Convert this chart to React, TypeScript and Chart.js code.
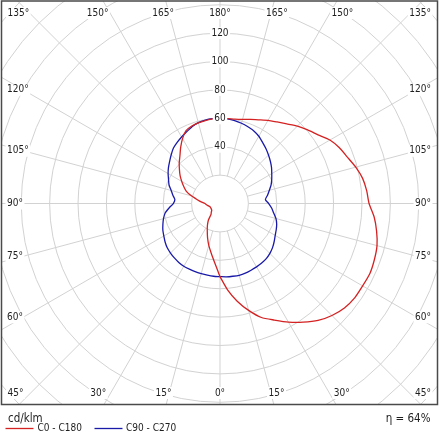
import React, { useEffect, useRef } from "react";
import { Chart, registerables } from "chart.js";

Chart.register(...registerables);

// gamma angles (deg), 0 = down, 180 = up
const GAMMA = [0, 5, 10, 15, 20, 25, 30, 35, 40, 45, 50, 55, 60, 65, 70, 75, 80, 85, 90, 95, 100, 105, 110, 115, 120, 125, 130, 135, 140, 145, 150, 155, 160, 165, 170, 175, 180];

// cd/klm
const C0 = [51.5, 61, 69.8, 77.9, 85.4, 90.5, 96.4, 102, 107.5, 111.5, 114.4, 115.8, 116, 116.5, 115.7, 114.5, 112, 109, 105, 103.7, 102, 99, 95.5, 92.8, 89.4, 84.3, 80.6, 77.1, 73.2, 70.1, 67.6, 65, 63, 61.3, 60.3, 60, 60];
const C180 = [51.5, 42, 35.5, 30.5, 25.6, 21.2, 17.7, 14.2, 9.8, 8.7, 7.6, 7.3, 7.2, 7.2, 7.3, 7.8, 8.6, 9.6, 10.6, 13.3, 16.5, 20.9, 25.2, 28.1, 31.1, 34.3, 37.3, 40.6, 43.9, 48.3, 52.8, 56.6, 58.1, 58.8, 59.3, 59.9, 60];
const C90 = [51.5, 51.8, 52, 52.3, 52.2, 51.8, 51.5, 51.2, 50.7, 49.7, 48.3, 46.6, 44.9, 43.7, 42.5, 40.8, 38.4, 36.5, 34.3, 32.1, 34, 36, 38.3, 40.2, 42.1, 44.3, 46.3, 48.3, 50.4, 52.4, 54.7, 56.4, 57.5, 58.5, 59.3, 59.8, 60];
const C270 = [51.5, 51.4, 51.2, 51.1, 51.1, 51, 51, 50.6, 50, 49.3, 48.5, 47.2, 45.7, 44.4, 42.8, 41.2, 39.3, 36, 32.9, 31.9, 33.7, 35.6, 38.2, 40, 42.2, 44.3, 46.3, 48.6, 51, 52.6, 54.1, 55.7, 57.6, 59, 59.7, 60, 60];

const SERIES_LABELS = ["C0 - C180", "C90 - C270"];
const CIRCLES = [20, 40, 60, 80, 100, 120, 140, 160, 180, 200];
const RADIAL_TICKS = [40, 60, 80, 100, 120];
const SPOKES = [0, 15, 30, 45, 60, 75, 90, 105, 120, 135, 150, 165, 180];
const UNIT_TEXT = "cd/klm";
const ETA_TEXT = "\u03b7 = 64%";

const X_MIN = -153.9;
const X_MAX = 153.2;
const Y_MIN = -141.5;
const Y_MAX = 142.6;

const RED = "#d42222";
const BLUE = "#1a1aa8";
const GRID = "#d2d2d2";
const TEXT = "#1e1e1e";
const FONT_FAMILY = "'DejaVu Sans Condensed', 'DejaVu Sans', sans-serif";

const toPoints = (vals: number[], side: number) =>
  GAMMA.map((g, i) => {
    const r = (g * Math.PI) / 180;
    return { x: side * vals[i] * Math.sin(r), y: -vals[i] * Math.cos(r) };
  });

const redPts = [...toPoints(C0, 1), ...toPoints(C180, -1).reverse().slice(1)];
const bluePts = [...toPoints(C90, 1), ...toPoints(C270, -1).reverse().slice(1)];

function labelBox(ctx: CanvasRenderingContext2D, text: string, cx: number, cy: number) {
  const w = ctx.measureText(text).width;
  ctx.fillStyle = "#ffffff";
  ctx.fillRect(cx - w / 2 - 1.5, cy - 6, w + 3, 12);
  ctx.fillStyle = TEXT;
  ctx.textAlign = "center";
  ctx.textBaseline = "middle";
  ctx.fillText(text, cx, cy);
}

const polarPlugin = {
  id: "polarPlugin",
  beforeDatasetsDraw(chart: any) {
    const { ctx, chartArea: a, scales } = chart;
    const sx = scales.x;
    const sy = scales.y;
    const cx = sx.getPixelForValue(0);
    const cy = sy.getPixelForValue(0);
    const ppu = sx.getPixelForValue(1) - cx;
    ctx.save();
    ctx.fillStyle = "#ffffff";
    ctx.fillRect(a.left, a.top, a.right - a.left, a.bottom - a.top);
    ctx.beginPath();
    ctx.rect(a.left, a.top, a.right - a.left, a.bottom - a.top);
    ctx.clip();
    ctx.strokeStyle = GRID;
    ctx.lineWidth = 1;
    for (const v of CIRCLES) {
      ctx.beginPath();
      ctx.arc(cx, cy, v * ppu, 0, Math.PI * 2);
      ctx.stroke();
    }
    for (const g of SPOKES) {
      for (const s of [1, -1]) {
        if (s === -1 && (g === 0 || g === 180)) continue;
        const r = (g * Math.PI) / 180;
        const dx = s * Math.sin(r);
        const dy = -Math.cos(r);
        ctx.beginPath();
        ctx.moveTo(sx.getPixelForValue(CIRCLES[0] * dx), sy.getPixelForValue(CIRCLES[0] * dy));
        ctx.lineTo(sx.getPixelForValue(300 * dx), sy.getPixelForValue(300 * dy));
        ctx.stroke();
      }
    }
    ctx.restore();
    void ppu;
  },
  afterDatasetsDraw(chart: any) {
    const { ctx, chartArea: a, scales } = chart;
    const sx = scales.x;
    const sy = scales.y;
    const cx = sx.getPixelForValue(0);
    const cy = sy.getPixelForValue(0);
    ctx.save();
    ctx.font = `10px ${FONT_FAMILY}`;
    // radial value labels along the 180° spoke
    for (const v of RADIAL_TICKS) {
      labelBox(ctx, String(v), sx.getPixelForValue(0), sy.getPixelForValue(v));
    }
    // angle labels around the frame
    const topY = a.top + 12;
    const botY = a.bottom - 11.5;
    for (const g of SPOKES) {
      for (const s of [1, -1]) {
        if (s === -1 && (g === 0 || g === 180)) continue;
        const text = `${g}\u00b0`;
        const w = ctx.measureText(text).width;
        if (g <= 45 || g >= 135) {
          const fromV = g <= 45 ? g : 180 - g;
          const y = g <= 45 ? botY : topY;
          let x = cx + s * (y > cy ? y - cy : cy - y) * 1.113 * Math.tan((fromV * Math.PI) / 180);
          const minX = a.left + 6 + w / 2;
          const maxX = a.right - 6.5 - w / 2;
          x = Math.max(minX, Math.min(maxX, x));
          labelBox(ctx, text, x, y);
        } else {
          const phi = ((g - 90) * Math.PI) / 180;
          const y = cy - Math.tan(phi) * 197;
          const x = s < 0 ? a.left + 5.5 + w / 2 : a.right - 6.5 - w / 2;
          labelBox(ctx, text, x, y);
        }
      }
    }
    // frame
    ctx.strokeStyle = "#4a4a4a";
    ctx.lineWidth = 1.5;
    ctx.strokeRect(a.left, a.top, a.right - a.left, a.bottom - a.top);

    // footer
    ctx.fillStyle = TEXT;
    ctx.textBaseline = "alphabetic";
    ctx.font = `11.5px ${FONT_FAMILY}`;
    ctx.textAlign = "left";
    ctx.fillText(UNIT_TEXT, a.left + 6.5, a.bottom + 17);
    ctx.textAlign = "right";
    ctx.fillText(ETA_TEXT, a.right - 7, a.bottom + 17);

    const ly = a.bottom + 24;
    const ds = chart.data.datasets;
    const legendItems = [
      { x0: a.left + 4, x1: a.left + 32, tx: a.left + 36, color: ds[0].borderColor, text: ds[0].label },
      { x0: a.left + 93, x1: a.left + 121, tx: a.left + 124.5, color: ds[1].borderColor, text: ds[1].label },
    ];
    ctx.font = `10px ${FONT_FAMILY}`;
    ctx.textBaseline = "middle";
    ctx.textAlign = "left";
    for (const it of legendItems) {
      ctx.strokeStyle = it.color;
      ctx.lineWidth = 1.3;
      ctx.beginPath();
      ctx.moveTo(it.x0, ly);
      ctx.lineTo(it.x1, ly);
      ctx.stroke();
      ctx.fillStyle = TEXT;
      ctx.fillText(it.text, it.tx, ly);
    }
    ctx.restore();
  },
};

export default function App() {
  const ref = useRef<HTMLCanvasElement | null>(null);
  useEffect(() => {
    if (!ref.current) return;
    const chart = new Chart(ref.current, {
      type: "scatter",
      data: {
        datasets: [
          {
            label: SERIES_LABELS[0],
            data: redPts,
            showLine: true,
            borderColor: RED,
            backgroundColor: RED,
            borderWidth: 1.3,
            pointRadius: 0,
            tension: 0.2,
            fill: false,
          },
          {
            label: SERIES_LABELS[1],
            data: bluePts,
            showLine: true,
            borderColor: BLUE,
            backgroundColor: BLUE,
            borderWidth: 1.3,
            pointRadius: 0,
            tension: 0.2,
            fill: false,
          },
        ],
      },
      options: {
        animation: false,
        responsive: false,
        maintainAspectRatio: false,
        events: [],
        layout: { padding: { left: 1.5, right: 2.5, top: 1, bottom: 35.5 } },
        scales: {
          x: { type: "linear", min: X_MIN, max: X_MAX, display: false },
          y: { type: "linear", min: Y_MIN, max: Y_MAX, display: false },
        },
        plugins: {
          legend: { display: false },
          tooltip: { enabled: false },
        },
      },
      plugins: [polarPlugin],
    } as any);
    return () => chart.destroy();
  }, []);
  return (
    <div style={{ position: "fixed", left: 0, top: 0, width: 440, height: 440, background: "#ffffff" }}>
      <canvas ref={ref} width={440} height={440} style={{ display: "block", width: 440, height: 440 }} />
    </div>
  );
}
